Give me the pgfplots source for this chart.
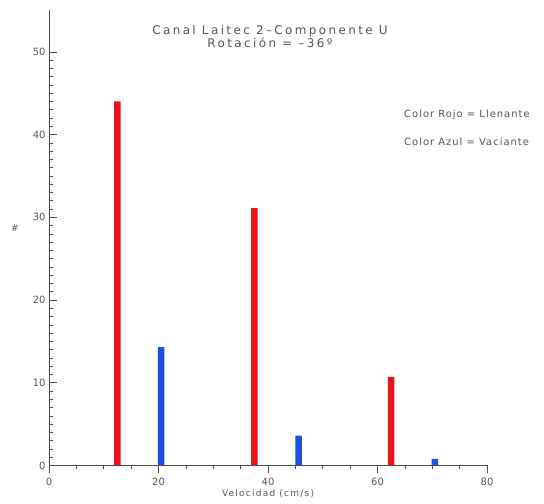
\documentclass[border=0pt]{standalone}
\usepackage{pgfplots}
\pgfplotsset{compat=1.18}
\usepackage{fontspec}
\setmainfont{DejaVu Sans}
\definecolor{barred}{HTML}{E8141B}
\definecolor{barblue}{HTML}{1E4FE0}
\definecolor{txt}{HTML}{555555}
\begin{document}
\begin{tikzpicture}[x=1bp,y=1bp]
\useasboundingbox (0,0) rectangle (544,504);
\begin{axis}[
  at={(49bp,38.5bp)}, anchor=south west, scale only axis,
  width=438bp, height=455bp,
  xmin=0, xmax=80, ymin=0, ymax=55,
  axis x line=bottom, axis y line=left,
  axis line style={-, black!70, line width=0.7bp},
  xtick={0,20,...,80}, ytick={0,10,...,50},
  minor x tick num=3, minor y tick num=9,
  tick align=inside, major tick length=8bp, minor tick length=4bp,
  tick style={black!70, line width=0.7bp},
  ticklabel style={font=\fontsize{10}{12}\selectfont, text=txt},
  /pgf/number format/assume math mode=true,
  xticklabel style={yshift=-1bp},
  ybar, bar width=6.5bp, bar shift=0pt,
  clip=false,
]
\addplot[fill=barred, draw=none] coordinates {(12.5,44.0) (37.5,31.1) (62.5,10.7)};
\addplot[fill=barblue, draw=none] coordinates {(20.5,14.3) (45.6,3.6) (70.5,0.8)};
\end{axis}
\node[text=txt, font=\fontsize{12}{14}\selectfont\addfontfeatures{LetterSpace=20}] at (270,473) {Canal Laitec 2–Componente U};
\node[text=txt, font=\fontsize{12}{14}\selectfont\addfontfeatures{LetterSpace=20}] at (270,461) {Rotación = –36º};
\node[text=txt, anchor=west, inner sep=0pt, font=\fontsize{10}{12}\selectfont\addfontfeatures{LetterSpace=10}] at (404,389) {Color Rojo = Llenante};
\node[text=txt, anchor=west, inner sep=0pt, font=\fontsize{10}{12}\selectfont\addfontfeatures{LetterSpace=10}] at (404,362) {Color Azul = Vaciante};
\node[text=txt, font=\fontsize{9}{11}\selectfont] at (15,276) {\#};
\node[text=txt, font=\fontsize{9}{11}\selectfont\addfontfeatures{LetterSpace=14}] at (268,10) {Velocidad (cm/s)};
\end{tikzpicture}
\end{document}
